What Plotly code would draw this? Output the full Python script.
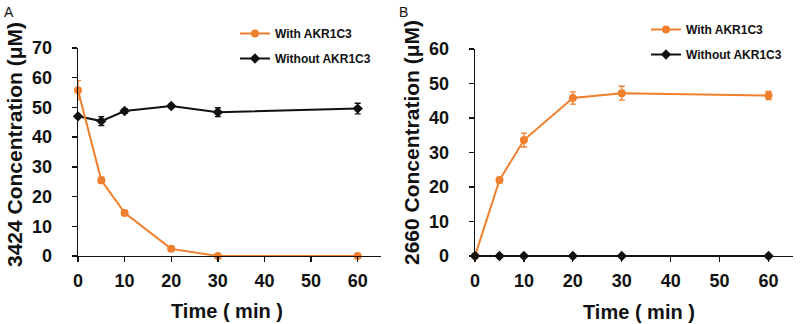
import plotly.graph_objects as go

# ---- data ----
time_min = [0, 5, 10, 20, 30, 60]

a_with = [55.8, 25.5, 14.5, 2.4, 0.0, 0.0]
a_with_err = [3.2, 1.0, 0.8, 0.5, 0.3, 0.3]
a_without = [47.0, 45.4, 48.8, 50.5, 48.4, 49.6]
a_without_err = [0.6, 1.5, 0.8, 0.6, 1.5, 1.8]

b_with = [0.0, 22.0, 33.6, 45.8, 47.2, 46.5]
b_with_err = [0.3, 0.8, 2.0, 1.8, 2.0, 1.2]
b_without = [0.0, 0.0, 0.0, 0.0, 0.0, 0.0]
b_without_err = [0.1, 0.1, 0.1, 0.1, 0.1, 0.1]

x_ticks = [0, 10, 20, 30, 40, 50, 60]
a_y_ticks = [0, 10, 20, 30, 40, 50, 60, 70]
b_y_ticks = [0, 10, 20, 30, 40, 50, 60]

ORANGE = "#F07F2D"
BLACK = "#111111"
FONT = "Liberation Sans"

fig = go.Figure()

def add(x, y, err, color, symbol, name, xa, ya, legend, group, rank):
    fig.add_trace(go.Scatter(
        x=x, y=y, mode="lines+markers", name=name,
        line=dict(color=color, width=2),
        marker=dict(color=color, symbol=symbol, size=8),
        error_y=dict(type="data", array=err, visible=True, color=color, thickness=1.3, width=3),
        xaxis=xa, yaxis=ya, legend=legend, legendgroup=group, legendrank=rank,
        cliponaxis=False,
    ))

add(time_min, a_without, a_without_err, BLACK, "diamond", "Without AKR1C3", "x", "y", "legend", "a2", 2)
add(time_min, a_with, a_with_err, ORANGE, "circle", "With AKR1C3", "x", "y", "legend", "a1", 1)
add(time_min, b_with, b_with_err, ORANGE, "circle", "With AKR1C3", "x2", "y2", "legend2", "b1", 1)
add(time_min, b_without, b_without_err, BLACK, "diamond", "Without AKR1C3", "x2", "y2", "legend2", "b2", 2)

W, H = 800, 324
def fx(px): return px / W
def fy(py): return 1 - py / H

tickfont = dict(family=FONT, size=18, color=BLACK, weight="bold")
common_x = dict(range=[0, 65], tickvals=x_ticks, ticks="outside", ticklen=5, tickwidth=1.3,
                tickcolor=BLACK, showline=True, linecolor=BLACK, linewidth=1.3,
                showgrid=False, zeroline=False, tickfont=tickfont, ticklabelstandoff=3,
                fixedrange=True, automargin=False)
common_y = dict(ticks="outside", ticklen=5, tickwidth=1.3, tickcolor=BLACK,
                showline=True, linecolor=BLACK, linewidth=1.3, showgrid=False,
                zeroline=False, tickfont=tickfont, ticklabelstandoff=16, fixedrange=True,
                automargin=False)

legfont = dict(family=FONT, size=12, color=BLACK, weight="bold")

fig.update_layout(
    width=W, height=H, margin=dict(l=0, r=0, t=0, b=0, autoexpand=False),
    paper_bgcolor="white", plot_bgcolor="white",
    xaxis=dict(domain=[fx(78), fx(381)], anchor="y", **common_x),
    yaxis=dict(domain=[fy(256), fy(48)], anchor="x", range=[0, 70], tickvals=a_y_ticks, **common_y),
    xaxis2=dict(domain=[fx(475), fx(793)], anchor="y2", **common_x),
    yaxis2=dict(domain=[fy(256), fy(49)], anchor="x2", range=[0, 60], tickvals=b_y_ticks, **common_y),
    legend=dict(x=fx(235), y=fy(19), xanchor="left", yanchor="top", font=legfont,
                bgcolor="rgba(0,0,0,0)", traceorder="grouped", tracegroupgap=6),
    legend2=dict(x=fx(646), y=fy(15), xanchor="left", yanchor="top", font=legfont,
                 bgcolor="rgba(0,0,0,0)", traceorder="grouped", tracegroupgap=6),
    showlegend=True,
)

xt_font = dict(family=FONT, size=20, color=BLACK, weight="bold")
yt_font = dict(family=FONT, size=21, color=BLACK, weight="bold")
ann = [
    dict(text="A", x=fx(9), y=fy(12), font=dict(family=FONT, size=14, color=BLACK)),
    dict(text="B", x=fx(403), y=fy(12), font=dict(family=FONT, size=14, color=BLACK)),
    dict(text="3424 Concentration (\u03bcM)", x=fx(14), y=fy(145), textangle=-90, font=yt_font),
    dict(text="2660 Concentration (\u03bcM)", x=fx(411), y=fy(143), textangle=-90, font=yt_font),
    dict(text="Time ( min )", x=fx(227), y=fy(311), font=xt_font),
    dict(text="Time ( min )", x=fx(639), y=fy(312), font=xt_font),
]
for a in ann:
    a.update(xref="paper", yref="paper", showarrow=False, xanchor="center", yanchor="middle")
fig.update_layout(annotations=ann)

fig.write_html(
    "out.html",
    config={"displayModeBar": False, "staticPlot": True},
    post_script="document.body.style.margin='0';document.body.style.overflow='hidden';",
)
